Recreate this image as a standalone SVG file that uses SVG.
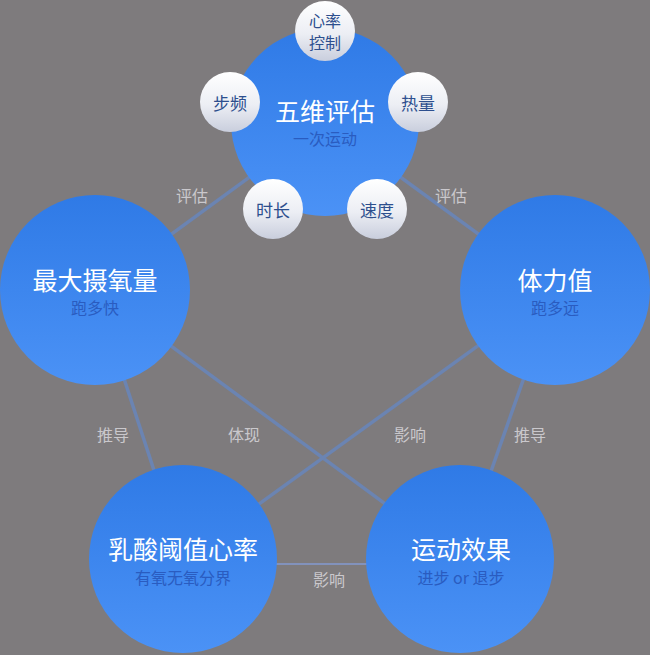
<svg xmlns="http://www.w3.org/2000/svg" width="650" height="655" viewBox="0 0 650 655">
<defs>
<linearGradient id="blue" x1="0" y1="0" x2="0" y2="1">
<stop offset="0" stop-color="#2f7ae6"/>
<stop offset="1" stop-color="#4b92f6"/>
</linearGradient>
<linearGradient id="pearl" x1="0" y1="0" x2="0" y2="1">
<stop offset="0" stop-color="#ffffff"/>
<stop offset="0.55" stop-color="#eceef4"/>
<stop offset="1" stop-color="#c9cedd"/>
</linearGradient>
<style>
.big{fill:url(#blue);}
.small{fill:url(#pearl);}
.t{font-family:"Noto Sans CJK SC","Noto Sans",sans-serif;text-anchor:middle;dominant-baseline:central;}
.main{fill:#ffffff;font-size:25px;}
.sub{fill:#2a5cc0;font-size:16px;}
.st{fill:#2d4f8e;font-size:17px;}
.st2{fill:#2d4f8e;font-size:16px;}
.lbl{fill:#cac8cc;font-size:16px;}
.con{stroke:#6b84b2;stroke-width:3.5;fill:none;}
.thin{stroke:#8292bc;stroke-width:2;fill:none;}
</style>
</defs>
<rect width="650" height="655" fill="#7e7b7d"/>
<g id="connectors">
<line class="con" x1="325" y1="122" x2="95" y2="290"/>
<line class="con" x1="325" y1="122" x2="555" y2="290"/>
<line class="con" x1="95" y1="290" x2="183" y2="559"/>
<line class="con" x1="95" y1="290" x2="460" y2="559"/>
<line class="con" x1="555" y1="290" x2="183" y2="559"/>
<line class="con" x1="555" y1="290" x2="460" y2="559"/>
<line class="thin" x1="183" y1="564" x2="460" y2="564"/>
<text class="t lbl" x="192" y="195">评估</text>
<text class="t lbl" x="451" y="195">评估</text>
<text class="t lbl" x="113" y="434">推导</text>
<text class="t lbl" x="244" y="434">体现</text>
<text class="t lbl" x="410" y="434">影响</text>
<text class="t lbl" x="530" y="434">推导</text>
<text class="t lbl" x="329" y="579">影响</text>
</g>
<g id="node-top">
<circle class="big" cx="325" cy="122" r="94"/>
<text class="t main" x="325" y="110">五维评估</text>
<text class="t sub" x="325" y="138">一次运动</text>
</g>
<g id="node-xinlv">
<circle class="small" cx="325" cy="31" r="30"/>
<text class="t st2" x="325" y="20">心率</text>
<text class="t st2" x="325" y="42">控制</text>
</g>
<g id="node-bupin">
<circle class="small" cx="230" cy="102" r="30"/>
<text class="t st" x="230" y="102">步频</text>
</g>
<g id="node-reliang">
<circle class="small" cx="418" cy="102" r="30"/>
<text class="t st" x="418" y="102">热量</text>
</g>
<g id="node-shichang">
<circle class="small" cx="273" cy="209" r="30"/>
<text class="t st" x="273" y="209">时长</text>
</g>
<g id="node-sudu">
<circle class="small" cx="377" cy="209" r="30"/>
<text class="t st" x="377" y="209">速度</text>
</g>
<g id="node-vo2max">
<circle class="big" cx="95" cy="290" r="95"/>
<text class="t main" x="95" y="279">最大摄氧量</text>
<text class="t sub" x="95" y="307">跑多快</text>
</g>
<g id="node-tili">
<circle class="big" cx="555" cy="290" r="95"/>
<text class="t main" x="555" y="279">体力值</text>
<text class="t sub" x="555" y="307">跑多远</text>
</g>
<g id="node-lactate">
<circle class="big" cx="183" cy="559" r="94"/>
<text class="t main" x="183" y="548">乳酸阈值心率</text>
<text class="t sub" x="183" y="577">有氧无氧分界</text>
</g>
<g id="node-effect">
<circle class="big" cx="460" cy="559" r="94"/>
<text class="t main" x="461" y="548">运动效果</text>
<text class="t sub" x="461" y="577">进步 or 退步</text>
</g>
</svg>
